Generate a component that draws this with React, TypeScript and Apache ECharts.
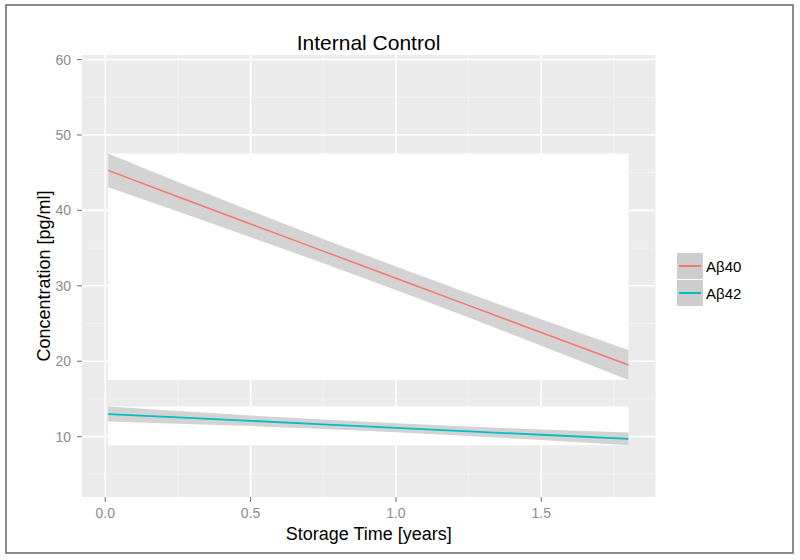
import React, { useEffect, useRef } from "react";
import * as echarts from "echarts";

const chartTitle = "Internal Control";
const xAxisTitle = "Storage Time [years]";
const yAxisTitle = "Concentration [pg/ml]";
const seriesNames = ["Aβ40", "Aβ42"];

const xTicks = [0, 0.5, 1.0, 1.5];
const xMinorTicks = [0.25, 0.75, 1.25, 1.75];
const yTicks = [10, 20, 30, 40, 50, 60];
const yMinorTicks = [5, 15, 25, 35, 45, 55];

const storageTime = [0.01, 0.25, 0.5, 0.75, 1.0, 1.25, 1.5, 1.8];
const ab40Fit = [45.3, 41.8, 38.2, 34.6, 31.0, 27.4, 23.8, 19.5];
const ab40Lower = [43.05, 39.85, 36.45, 33.0, 29.45, 25.8, 22.05, 17.5];
const ab40Upper = [47.55, 43.75, 39.95, 36.2, 32.55, 29.0, 25.55, 21.5];
const ab42Fit = [13.0, 12.56, 12.1, 11.64, 11.17, 10.71, 10.25, 9.7];
const ab42Lower = [12.0, 11.71, 11.4, 11.02, 10.57, 10.08, 9.55, 8.85];
const ab42Upper = [14.0, 13.41, 12.8, 12.26, 11.77, 11.34, 10.95, 10.55];

const FONT = "'Liberation Sans', Arial, Helvetica, sans-serif";
const RED = "#F8766D";
const CYAN = "#00BFC4";

export default function App() {
  const ref = useRef<HTMLDivElement>(null);

  useEffect(() => {
    if (!ref.current) return;
    const chart = echarts.init(ref.current, null, { renderer: "svg" });

    const gridData: number[][] = [
      ...xMinorTicks.map((v) => [0, v, 0]),
      ...yMinorTicks.map((v) => [1, v, 0]),
      ...xTicks.map((v) => [0, v, 1]),
      ...yTicks.map((v) => [1, v, 1]),
    ];
    const tickData: number[][] = [
      ...xTicks.map((v) => [0, v]),
      ...yTicks.map((v) => [1, v]),
    ];

    const bands = [
      { lower: ab40Lower, upper: ab40Upper },
      { lower: ab42Lower, upper: ab42Upper },
    ];

    const boxRender = (idx: number) => (params: any, api: any) => {
      const b = bands[idx];
      const x0 = storageTime[0];
      const x1 = storageTime[storageTime.length - 1];
      const yMin = Math.min(...b.lower);
      const yMax = Math.max(...b.upper);
      const p0 = api.coord([x0, yMax]);
      const p1 = api.coord([x1, yMin]);
      return {
        type: "rect",
        shape: { x: p0[0], y: p0[1], width: p1[0] - p0[0], height: p1[1] - p0[1] },
        style: { fill: "#FFFFFF" },
      };
    };

    const ribbonRender = (idx: number) => (params: any, api: any) => {
      const b = bands[idx];
      const pts: number[][] = [];
      storageTime.forEach((x, i) => pts.push(api.coord([x, b.upper[i]])));
      for (let i = storageTime.length - 1; i >= 0; i--) pts.push(api.coord([storageTime[i], b.lower[i]]));
      return {
        type: "polygon",
        shape: { points: pts },
        style: { fill: "#D3D3D3" },
      };
    };

    const option: any = {
      animation: false,
      backgroundColor: "#FFFFFF",
      grid: {
        left: 82,
        right: 144.5,
        top: 55,
        bottom: 63,
        show: true,
        backgroundColor: "#EBEBEB",
        borderWidth: 0,
      },
      graphic: [
        {
          type: "rect",
          z: 0,
          shape: { x: 6, y: 5, width: 787, height: 548 },
          style: { fill: "none", stroke: "#666666", lineWidth: 1.5 },
        },
        {
          type: "text",
          z: 10,
          x: 368.5,
          y: 42,
          style: {
            text: chartTitle,
            align: "center",
            verticalAlign: "middle",
            fontSize: 21,
            fontFamily: FONT,
            fill: "#000000",
          },
        },
        {
          type: "rect",
          z: 1,
          shape: { x: 677, y: 253, width: 26, height: 26 },
          style: { fill: "#CDCDCD" },
        },
        {
          type: "rect",
          z: 1,
          shape: { x: 677, y: 280, width: 26, height: 26 },
          style: { fill: "#CDCDCD" },
        },
      ],
      legend: {
        z: 5,
        orient: "vertical",
        left: 679,
        top: 253,
        itemWidth: 22,
        itemHeight: 2,
        itemGap: 1,
        padding: 0,
        data: seriesNames.map((n) => ({ name: n, icon: "rect" })),
        textStyle: { fontSize: 15, lineHeight: 26, color: "#000000", fontFamily: FONT },
      },
      xAxis: {
        type: "value",
        min: -0.08,
        max: 1.893,
        splitLine: { show: false },
        axisLine: { show: false },
        axisTick: { show: false },
        axisLabel: {
          customValues: xTicks,
          formatter: (v: number) => v.toFixed(1),
          color: "#8C8C8C",
          fontSize: 14,
          margin: 9,
          fontFamily: FONT,
        },
        name: xAxisTitle,
        nameLocation: "middle",
        nameGap: 28,
        nameTextStyle: { color: "#000000", fontSize: 18, fontFamily: FONT },
      },
      yAxis: {
        type: "value",
        min: 2.0,
        max: 60.6,
        splitLine: { show: false },
        axisLine: { show: false },
        axisTick: { show: false },
        axisLabel: {
          customValues: yTicks,
          formatter: (v: number) => String(v),
          color: "#8C8C8C",
          fontSize: 14,
          margin: 11,
          fontFamily: FONT,
        },
        name: yAxisTitle,
        nameLocation: "middle",
        nameMoveOverlap: false,
        nameGap: 29,
        nameTextStyle: { color: "#000000", fontSize: 18, fontFamily: FONT },
      },
      series: [
        {
          name: "gridlines",
          type: "custom",
          silent: true,
          clip: true,
          data: gridData,
          renderItem: (params: any, api: any) => {
            const cs = params.coordSys;
            const dir = api.value(0);
            const v = api.value(1);
            const major = api.value(2) === 1;
            const style = {
              stroke: major ? "#FFFFFF" : "#F4F4F4",
              lineWidth: major ? 1.6 : 0.8,
            };
            if (dir === 0) {
              const p = api.coord([v, 30]);
              return {
                type: "line",
                shape: { x1: p[0], y1: cs.y, x2: p[0], y2: cs.y + cs.height },
                style,
              };
            }
            const p = api.coord([0, v]);
            return {
              type: "line",
              shape: { x1: cs.x, y1: p[1], x2: cs.x + cs.width, y2: p[1] },
              style,
            };
          },
        },
        {
          name: "ticks",
          type: "custom",
          silent: true,
          clip: false,
          data: tickData,
          renderItem: (params: any, api: any) => {
            const cs = params.coordSys;
            const dir = api.value(0);
            const v = api.value(1);
            const style = { stroke: "#7A7A7A", lineWidth: 1.1 };
            if (dir === 0) {
              const p = api.coord([v, 30]);
              const yb = cs.y + cs.height;
              return { type: "line", shape: { x1: p[0], y1: yb, x2: p[0], y2: yb + 5 }, style };
            }
            const p = api.coord([0, v]);
            return { type: "line", shape: { x1: cs.x - 5, y1: p[1], x2: cs.x, y2: p[1] }, style };
          },
        },
        {
          name: "box40",
          type: "custom",
          silent: true,
          data: [[storageTime[0], ab40Fit[0]]],
          renderItem: boxRender(0),
        },
        {
          name: "box42",
          type: "custom",
          silent: true,
          data: [[storageTime[0], ab42Fit[0]]],
          renderItem: boxRender(1),
        },
        {
          name: "ribbon40",
          type: "custom",
          silent: true,
          data: [[storageTime[0], ab40Fit[0]]],
          renderItem: ribbonRender(0),
        },
        {
          name: "ribbon42",
          type: "custom",
          silent: true,
          data: [[storageTime[0], ab42Fit[0]]],
          renderItem: ribbonRender(1),
        },
        {
          name: seriesNames[0],
          type: "line",
          showSymbol: false,
          color: RED,
          lineStyle: { color: RED, width: 1.5 },
          data: storageTime.map((x, i) => [x, ab40Fit[i]]),
        },
        {
          name: seriesNames[1],
          type: "line",
          showSymbol: false,
          color: CYAN,
          lineStyle: { color: CYAN, width: 1.8 },
          data: storageTime.map((x, i) => [x, ab42Fit[i]]),
        },
      ],
    };

    chart.setOption(option);
    return () => chart.dispose();
  }, []);

  return (
    <div
      ref={ref}
      style={{ position: "fixed", left: 0, top: 0, width: 800, height: 560, background: "#fff" }}
    />
  );
}
